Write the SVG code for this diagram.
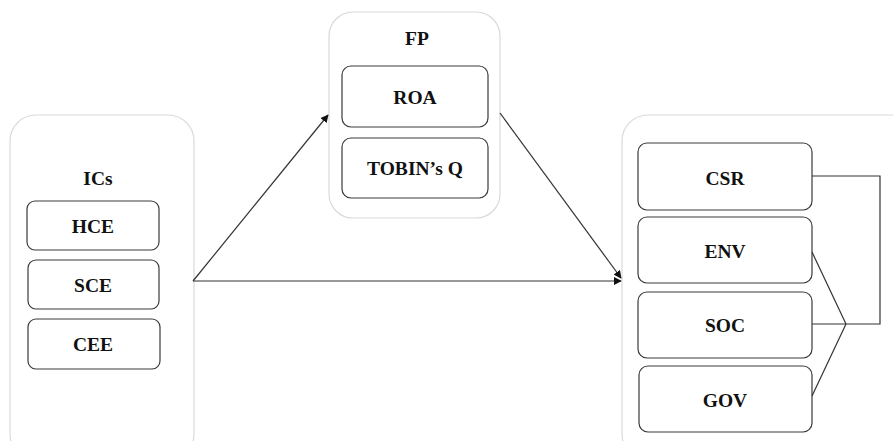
<svg xmlns="http://www.w3.org/2000/svg" width="893" height="441" viewBox="0 0 893 441">
<defs>
<style>
.cont{fill:#fff;stroke:#d9d9d9;stroke-width:1.2}
.box{fill:#fff;stroke:#3a3a3a;stroke-width:1.2}
.t{font-family:"Liberation Serif","Times New Roman",serif;font-weight:bold;font-size:19.5px;fill:#111;text-anchor:middle;dominant-baseline:central}
.c{fill:none;stroke:#333;stroke-width:1.2}
</style>
<marker id="ah" viewBox="0 0 10 10" refX="9" refY="5" markerWidth="8" markerHeight="8" markerUnits="userSpaceOnUse" orient="auto">
<path d="M0,0 L10,5 L0,10 z" fill="#111"/>
</marker>
</defs>
<rect width="893" height="441" fill="#fff"/>
<g id="ICs">
<rect class="cont" x="10" y="115" width="184" height="345" rx="26"/>
<text class="t" x="98" y="178">ICs</text>
</g>
<g id="HCE"><rect class="box" x="27" y="201" width="132" height="49" rx="8"/><text class="t" x="93" y="226">HCE</text></g>
<g id="SCE"><rect class="box" x="28" y="260" width="131" height="49" rx="8"/><text class="t" x="93" y="285">SCE</text></g>
<g id="CEE"><rect class="box" x="28" y="319" width="132" height="50" rx="8"/><text class="t" x="93" y="344">CEE</text></g>
<g id="FP">
<rect class="cont" x="329" y="12" width="171" height="206" rx="24"/>
<text class="t" x="417" y="38">FP</text>
</g>
<g id="ROA"><rect class="box" x="342" y="66" width="146" height="61" rx="9"/><text class="t" x="415" y="97">ROA</text></g>
<g id="TOBIN"><rect class="box" x="342" y="138" width="146" height="60" rx="9"/><text class="t" x="415" y="168">TOBIN’s Q</text></g>
<g id="Outcome">
<rect class="cont" x="622" y="115" width="300" height="345" rx="26"/>
</g>
<g id="CSR"><rect class="box" x="638" y="143" width="174" height="67" rx="9"/><text class="t" x="725" y="178">CSR</text></g>
<g id="ENV"><rect class="box" x="638" y="217" width="174" height="66" rx="9"/><text class="t" x="725" y="251">ENV</text></g>
<g id="SOC"><rect class="box" x="638" y="292" width="174" height="66" rx="9"/><text class="t" x="725" y="325">SOC</text></g>
<g id="GOV"><rect class="box" x="639" y="366" width="173" height="66" rx="9"/><text class="t" x="725" y="400">GOV</text></g>
<g id="connectors">
<line class="c" x1="193" y1="281" x2="328" y2="115" marker-end="url(#ah)"/>
<line class="c" x1="193" y1="281" x2="621" y2="281" marker-end="url(#ah)"/>
<line class="c" x1="500" y1="113" x2="621" y2="278" marker-end="url(#ah)"/>
<polyline class="c" points="812,176 880,176 880,324 846,324"/>
<line class="c" x1="812" y1="252" x2="846" y2="324"/>
<line class="c" x1="812" y1="324" x2="846" y2="324"/>
<line class="c" x1="812" y1="396" x2="846" y2="324"/>
</g>
</svg>
